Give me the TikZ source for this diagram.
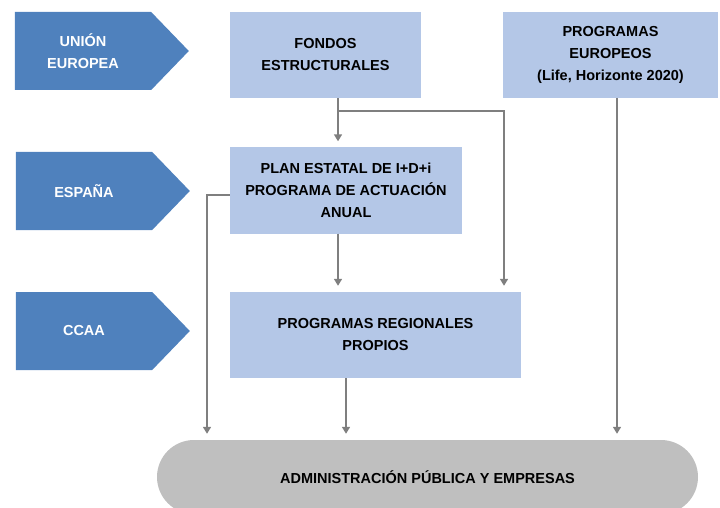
\documentclass[tikz,border=0pt]{standalone}
\usepackage{fontspec}
\setmainfont{Liberation Sans}
\usetikzlibrary{arrows.meta,positioning,calc,shapes.symbols,shapes.misc}

\definecolor{levelblue}{HTML}{4F81BD}
\definecolor{boxblue}{HTML}{B4C7E7}
\definecolor{pillgray}{HTML}{BFBFBF}
\definecolor{linegray}{HTML}{7F7F7F}

\tikzset{
  level/.style={signal, signal to=east, signal pointer angle=92, fill=levelblue,
    minimum width=174pt, minimum height=78pt, inner sep=0pt,
    text=white, font=\bfseries\fontsize{14.5}{22}\selectfont, align=center},
  fund/.style={rectangle, fill=boxblue, inner sep=0pt,
    minimum height=86pt, font=\bfseries\fontsize{14.5}{22}\selectfont, align=center},
  target/.style={rounded rectangle, fill=pillgray, inner sep=0pt,
    minimum width=541pt, minimum height=74pt, font=\bfseries\fontsize{14.5}{22}\selectfont},
  conn/.style={draw=linegray, line width=1.6pt,
    -{Triangle[width=8pt,length=7pt]}, shorten >=6pt}
}

\begin{document}
\begin{tikzpicture}[x=1pt,y=-1pt]
        \useasboundingbox (0,0) rectangle (720,508);
        \clip (0,0) rectangle (720,508);

        % Left side levels
        \node[level] (ue) at (83,51) {UNIÓN\\EUROPEA};
        \node[level] (espana) at (84,191) {ESPAÑA};
        \node[level] (ccaa) at (84,331) {CCAA};

        % Funding boxes
        \node[fund, minimum width=191pt] (fondos) at (325.5,55) {FONDOS\\ESTRUCTURALES};
        \node[fund, minimum width=215pt] (europeos) at (610.5,55) {PROGRAMAS\\EUROPEOS\\(Life, Horizonte 2020)};
        \node[fund, minimum width=232pt] (plan) at (346,190.5) {PLAN ESTATAL DE I+D+i\\PROGRAMA DE ACTUACIÓN\\ANUAL};
        \node[fund, minimum width=291pt] (regionales) at (375.5,335) {PROGRAMAS REGIONALES\\PROPIOS};

        % Receivers
        \node[target] (admin) at (427.5,477) {ADMINISTRACIÓN PÚBLICA Y EMPRESAS};

        % Invisible bend points
        \coordinate (split) at (338,111);
        \coordinate (branch) at (504,111);
        \coordinate (corner) at (207,195);
        \coordinate (regOut) at (346,378);
        \coordinate (eurOut) at (617,98);

        % Arcs between boxes
        \draw[conn] (fondos.south -| split) -- (plan.north -| split);
        \draw[conn] (split) -- (branch) -- (branch |- regionales.north);
        \draw[conn] (plan.south -| split) -- (regionales.north -| split);
        \draw[conn] (plan.west |- corner) -- (corner) -- (corner |- admin.north);
        \draw[conn] (regOut) -- (regOut |- admin.north);
        \draw[conn] (eurOut) -- (eurOut |- admin.north);

    \end{tikzpicture}
\end{document}
